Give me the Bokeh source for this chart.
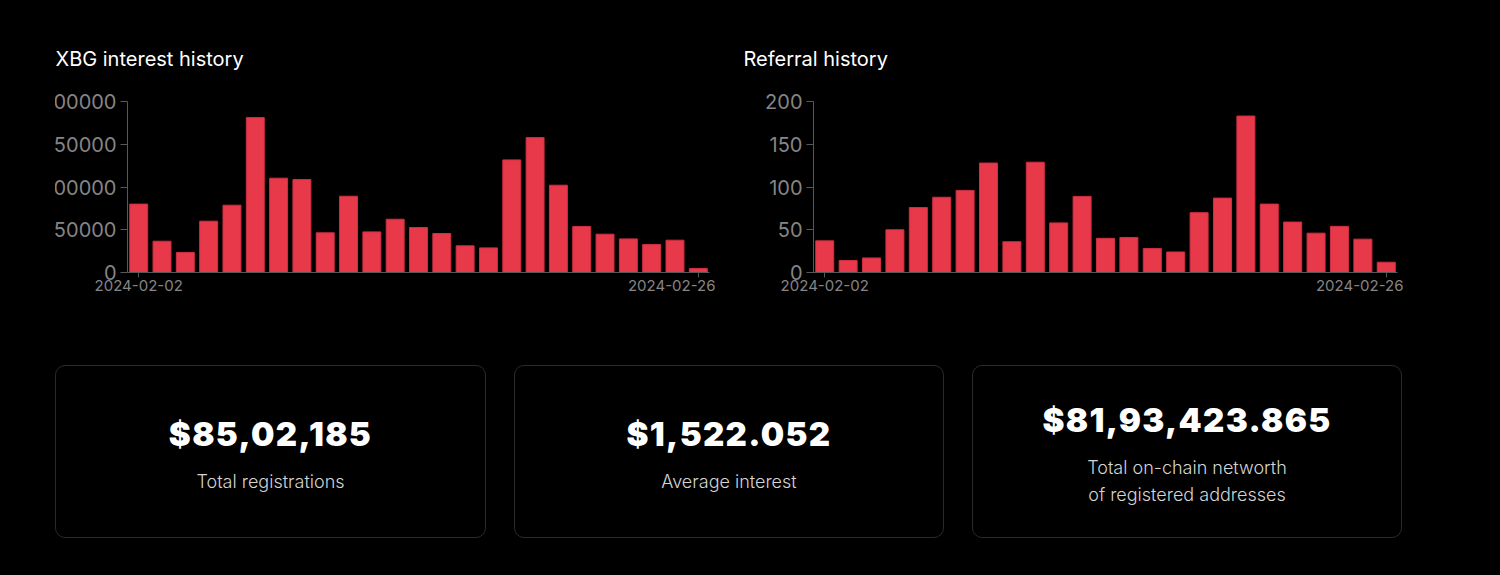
import pandas as pd
from bokeh.plotting import figure
from bokeh.models import (Range1d, FixedTicker, DatetimeTickFormatter, BasicTickFormatter,
                          Div, Spacer, GlobalInlineStyleSheet)
from bokeh.layouts import row, column
from bokeh.embed import file_html
from bokeh.resources import INLINE

# ---------------- data ----------------
dates = ["2024-02-02", "2024-02-03", "2024-02-04", "2024-02-05", "2024-02-06",
         "2024-02-07", "2024-02-08", "2024-02-09", "2024-02-10", "2024-02-11",
         "2024-02-12", "2024-02-13", "2024-02-14", "2024-02-15", "2024-02-16",
         "2024-02-17", "2024-02-18", "2024-02-19", "2024-02-20", "2024-02-21",
         "2024-02-22", "2024-02-23", "2024-02-24", "2024-02-25", "2024-02-26"]
interest = [80000, 36600, 23400, 60000, 78700, 181200, 110300, 108700, 46400, 89200,
            47500, 62300, 52600, 45600, 31200, 28800, 131700, 157800, 102100, 53800,
            44800, 39300, 32700, 37800, 4700]
referrals = [37, 14, 17, 50, 76, 88, 96, 128, 36, 129, 58, 89, 40, 41, 28, 24,
             70, 87, 183, 80, 59, 46, 54, 39, 12]
interest_ticks = [0, 50000, 100000, 150000, 200000]
referral_ticks = [0, 50, 100, 150, 200]
chart_titles = ["XBG interest history", "Referral history"]
card_values = ["$85,02,185", "$1,522.052", "$81,93,423.865"]
card_labels = [["Total registrations"], ["Average interest"],
               ["Total on-chain networth", "of registered addresses"]]

# ---------------- style ----------------
BAR = "#e8394b"
BAR_LINE = "#cf2f40"
AXIS = "#585858"
TICK_TXT = "#858585"
FONT = "Inter"
DAY = 86400000

xs = [int(pd.Timestamp(d).value // 10**6) for d in dates]


def make_chart(title, values, yticks, left_border, width, title_offset):
    p = figure(width=width, height=310, x_axis_type="datetime",
               output_backend="svg", toolbar_location=None,
               x_range=Range1d(xs[0] - 0.48 * DAY, xs[-1] + 0.48 * DAY),
               y_range=Range1d(yticks[0], yticks[-1]),
               min_border_left=left_border, min_border_right=6,
               min_border_top=101, min_border_bottom=38,
               background_fill_color="black", border_fill_color="black",
               outline_line_color=None)
    p.title.text = title
    p.title.text_font = FONT
    p.title.text_font_size = "20px"
    p.title.text_font_style = "normal"
    p.title.text_color = "white"
    p.title.align = "left"
    p.title.offset = title_offset
    p.title.standoff = 61
    p.grid.visible = False

    p.vbar(x=xs, top=values, bottom=0, width=0.77 * DAY,
           fill_color=BAR, line_color=BAR_LINE, line_width=1)

    xa = p.xaxis[0]
    xa.ticker = FixedTicker(ticks=[xs[0], xs[-1]])
    fmt = "%Y-%m-%d"
    xa.formatter = DatetimeTickFormatter(
        microseconds=fmt, milliseconds=fmt, seconds=fmt, minsec=fmt,
        minutes=fmt, hourmin=fmt, hours=fmt, days=fmt, months=fmt, years=fmt)
    xa.axis_line_color = AXIS
    xa.major_tick_line_color = AXIS
    xa.major_tick_out = 5
    xa.major_tick_in = 0
    xa.minor_tick_line_color = None
    xa.major_label_text_font = FONT
    xa.major_label_text_font_size = "15px"
    xa.major_label_text_color = TICK_TXT
    xa.major_label_standoff = 2

    ya = p.yaxis[0]
    ya.ticker = FixedTicker(ticks=yticks)
    ya.formatter = BasicTickFormatter(use_scientific=False)
    ya.axis_line_color = AXIS
    ya.major_tick_line_color = AXIS
    ya.major_tick_out = 7
    ya.major_tick_in = 0
    ya.minor_tick_line_color = None
    ya.major_label_text_font = FONT
    ya.major_label_text_font_size = "20px"
    ya.major_label_text_color = TICK_TXT
    ya.major_label_standoff = 4
    return p


# left chart: its tick labels are wider than the visible border, so the figure
# starts 18px further left and that strip is clipped away (as in the reference)
p1 = make_chart(chart_titles[0], interest, interest_ticks, 90, 678, -72)
p1.styles = {"clip-path": "inset(0px 0px 0px 18px)"}
p2 = make_chart(chart_titles[1], referrals, referral_ticks, 70, 660, -70)


def card(val, lines, w):
    html = (
        f'<div style="box-sizing:border-box;width:{w}px;height:173px;'
        f'border:1px solid #2a2a2a;border-radius:10px;display:flex;'
        f'flex-direction:column;align-items:center;justify-content:center;'
        f'padding-top:6px;background:#000;">'
        f'<div style="font-family:Inter;font-weight:900;font-size:33px;'
        f'letter-spacing:1.3px;line-height:38px;color:#ffffff;">{val}</div>'
        f'<div style="margin-top:15px;font-family:Inter;font-weight:300;font-size:18px;'
        f'line-height:27px;color:#d4d4d4;text-align:center;">'
        f'{"<br>".join(lines)}</div></div>'
    )
    return Div(text=html, width=w, height=173, margin=0)


cards = [card(card_values[0], card_labels[0], 431),
         card(card_values[1], card_labels[1], 430),
         card(card_values[2], card_labels[2], 430)]

charts_row = row(Spacer(width=37, height=310), p1, Spacer(width=28), p2)
cards_row = row(Spacer(width=55), cards[0], Spacer(width=28), cards[1],
                Spacer(width=28), cards[2])
layout = column(charts_row, Spacer(height=55), cards_row,
                stylesheets=[GlobalInlineStyleSheet(css="html, body { background: #000000; }")])

html = file_html(layout, INLINE)
html = html.replace("<head>", "<head><style>html,body{background:#000000;}</style>", 1)
open("out.html", "w").write(html)
